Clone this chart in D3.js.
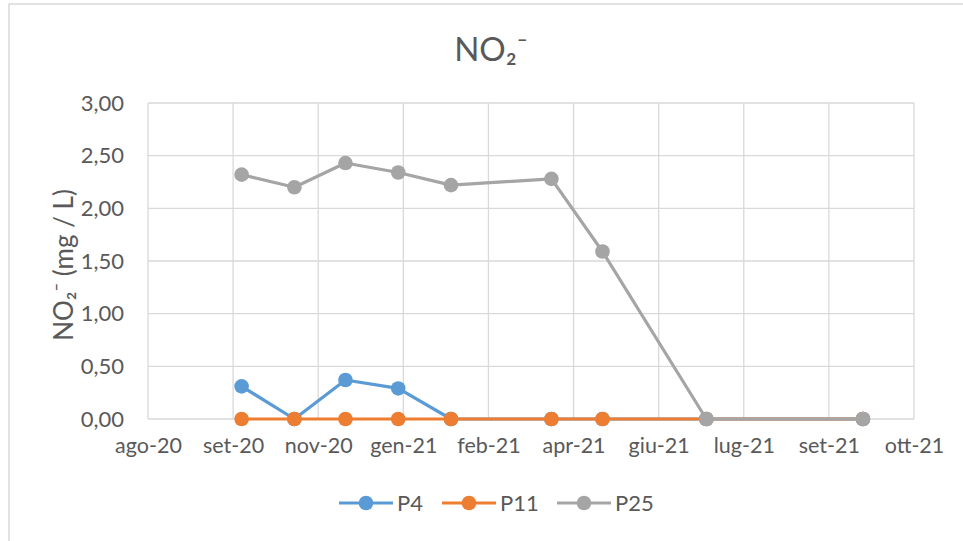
<!DOCTYPE html>
<html>
<head>
<meta charset="utf-8">
<script src="https://cdn.jsdelivr.net/npm/d3@7"></script>
<style>
body { margin: 0; background: #fff; }
text { font-family: Lato, "Noto Sans", sans-serif; fill: #595959; }
</style>
</head>
<body>
<script>
var width = 963, height = 541;

// data
var dates = ["2020-10-01", "2020-11-01", "2020-12-01", "2021-01-01", "2021-02-01",
             "2021-04-01", "2021-05-01", "2021-07-01", "2021-10-01"];
var p4  = [0.31, 0, 0.37, 0.29, 0, 0, 0, 0, 0];
var p11 = [0, 0, 0, 0, 0, 0, 0, 0, 0];
var p25 = [2.32, 2.20, 2.43, 2.34, 2.22, 2.28, 1.59, 0, 0];
var seriesNames = ["P4", "P11", "P25"];
var seriesValues = [p4, p11, p25];
var colors = ["#5B9BD5", "#ED7D31", "#A5A5A5"];
var yTicks = [0, 0.5, 1, 1.5, 2, 2.5, 3];
var xMin = "2020-08-07", xMax = "2021-10-31", xStepDays = 50;

var parse = d3.timeParse("%Y-%m-%d");
var it = d3.timeFormatLocale({
  dateTime: "%A %e %B %Y, %X", date: "%d/%m/%Y", time: "%H:%M:%S",
  periods: ["AM", "PM"],
  days: ["domenica","lunedì","martedì","mercoledì","giovedì","venerdì","sabato"],
  shortDays: ["dom","lun","mar","mer","gio","ven","sab"],
  months: ["gennaio","febbraio","marzo","aprile","maggio","giugno","luglio","agosto","settembre","ottobre","novembre","dicembre"],
  shortMonths: ["gen","feb","mar","apr","mag","giu","lug","ago","set","ott","nov","dic"]
});
var fmtX = it.format("%b-%y");
var fmtY = function(v) { return d3.format(".2f")(v).replace(".", ","); };

// plot area
var plotLeft = 148, plotRight = 914, plotTop = 103, plotBottom = 419;
var markerR = 7.3;

var svg = d3.select("body").append("svg").attr("width", width).attr("height", height);

// chart border
svg.append("rect")
  .attr("x", 9).attr("y", 4)
  .attr("width", width + 10).attr("height", height + 10)
  .attr("fill", "none").attr("stroke", "#d9d9d9").attr("stroke-width", 1.5);

var x = d3.scaleTime().domain([parse(xMin), parse(xMax)]).range([plotLeft, plotRight]);
var y = d3.scaleLinear().domain([0, 3]).range([plotBottom, plotTop]);

var xTicks = d3.range(0, 10).map(function(i) { return d3.timeDay.offset(parse(xMin), i * xStepDays); });

// grid
svg.append("g").selectAll("line").data(yTicks).join("line")
  .attr("x1", plotLeft).attr("x2", plotRight)
  .attr("y1", function(d) { return y(d); }).attr("y2", function(d) { return y(d); })
  .attr("stroke", "#d9d9d9").attr("stroke-width", 1.3);
svg.append("g").selectAll("line").data(xTicks).join("line")
  .attr("x1", function(d) { return x(d); }).attr("x2", function(d) { return x(d); })
  .attr("y1", plotTop).attr("y2", plotBottom)
  .attr("stroke", "#d9d9d9").attr("stroke-width", 1.3);

// axes labels
var yAxis = svg.append("g").attr("transform", "translate(" + plotLeft + ",0)")
  .call(d3.axisLeft(y).tickValues(yTicks).tickFormat(fmtY).tickSize(0).tickPadding(24));
yAxis.select(".domain").remove();
yAxis.selectAll("text").attr("font-size", 22).attr("fill", "#595959").attr("font-family", null);

var xAxis = svg.append("g").attr("transform", "translate(0," + plotBottom + ")")
  .call(d3.axisBottom(x).tickValues(xTicks).tickFormat(fmtX).tickSize(0).tickPadding(19));
xAxis.select(".domain").remove();
xAxis.selectAll("text").attr("font-size", 21.5).attr("fill", "#595959").attr("font-family", null);

// title
svg.append("text").attr("x", 491).attr("y", 61).attr("text-anchor", "middle")
  .attr("font-size", 33).text("NO₂⁻");

// y title
svg.append("text")
  .attr("transform", "translate(73,265) rotate(-90)")
  .attr("text-anchor", "middle").attr("font-size", 26)
  .text("NO₂⁻ (mg / L)");

// series
var line = d3.line()
  .x(function(d, i) { return x(parse(dates[i])); })
  .y(function(d) { return y(d); });

seriesValues.forEach(function(vals, s) {
  var g = svg.append("g");
  g.append("path").attr("d", line(vals))
    .attr("fill", "none").attr("stroke", colors[s]).attr("stroke-width", 3.2)
    .attr("stroke-linejoin", "round");
  g.selectAll("circle").data(vals).join("circle")
    .attr("cx", function(d, i) { return x(parse(dates[i])); })
    .attr("cy", function(d) { return y(d); })
    .attr("r", markerR).attr("fill", colors[s]);
});

// legend
var legendX = [339, 442, 557];
var legendY = 503;
seriesNames.forEach(function(name, s) {
  var g = svg.append("g").attr("transform", "translate(" + legendX[s] + "," + legendY + ")");
  g.append("line").attr("x1", 0).attr("x2", 54).attr("y1", 0).attr("y2", 0)
    .attr("stroke", colors[s]).attr("stroke-width", 3.2);
  g.append("circle").attr("cx", 27).attr("cy", 0).attr("r", markerR).attr("fill", colors[s]);
  g.append("text").attr("x", 58).attr("y", 0).attr("dy", "0.36em")
    .attr("font-size", 22).text(name);
});
</script>
</body>
</html>
